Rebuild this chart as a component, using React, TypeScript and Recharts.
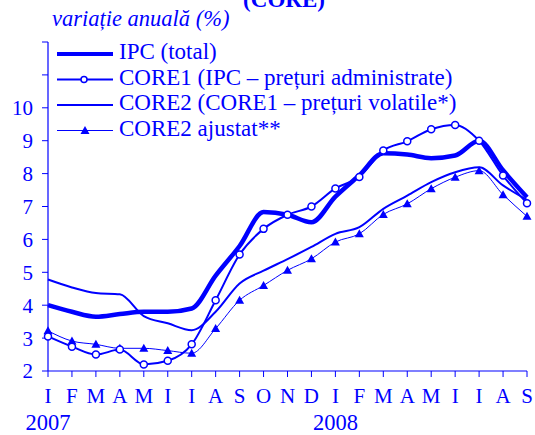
import React from 'react';
import { LineChart, Line, XAxis, YAxis, Legend } from 'recharts';

const BLUE = '#0000ff';
const FONT = 'Liberation Serif';

const months = ['I', 'F', 'M', 'A', 'M', 'I', 'I', 'A', 'S', 'O', 'N', 'D', 'I', 'F', 'M', 'A', 'M', 'I', 'I', 'A', 'S'];
const years = ['2007', '2007', '2007', '2007', '2007', '2007', '2007', '2007', '2007', '2007', '2007', '2007', '2008', '2008', '2008', '2008', '2008', '2008', '2008', '2008', '2008'];
const ipc = [4.0, 3.8, 3.65, 3.73, 3.8, 3.8, 3.9, 4.9, 5.8, 6.83, 6.75, 6.52, 7.3, 7.95, 8.62, 8.58, 8.47, 8.55, 9.0, 8.1, 7.28];
const core1 = [3.05, 2.74, 2.5, 2.65, 2.2, 2.31, 2.81, 4.15, 5.54, 6.32, 6.75, 7.0, 7.55, 7.9, 8.7, 8.98, 9.35, 9.48, 9.0, 7.94, 7.1];
const core2 = [4.78, 4.54, 4.37, 4.33, 3.67, 3.45, 3.24, 3.8, 4.66, 5.05, 5.4, 5.77, 6.17, 6.37, 6.93, 7.33, 7.74, 8.04, 8.19, 7.64, 7.2];
const core2adj = [3.22, 2.91, 2.81, 2.69, 2.69, 2.62, 2.54, 3.29, 4.15, 4.6, 5.06, 5.41, 5.92, 6.17, 6.76, 7.08, 7.54, 7.89, 8.09, 7.36, 6.7];
const yTicks = [2, 3, 4, 5, 6, 7, 8, 9, 10, 11, 12];
const legendLabels = [
  'IPC (total)',
  'CORE1 (IPC \u2013 pre\u021Buri administrate)',
  'CORE2 (CORE1 \u2013 pre\u021Buri volatile*)',
  'CORE2 ajustat**',
];
const title = '(CORE)';
const subtitle = 'varia\u021Bie anual\u0103 (%)';

const data = months.map((m, i) => ({
  key: `${years[i]}-${i}`,
  ipc: ipc[i],
  core1: core1[i],
  core2: core2[i],
  core2adj: core2adj[i],
}));

const txtStyle = { fontFamily: FONT };

const MonthTick = (props: any) => {
  const { x, y, index } = props;
  const i = typeof index === 'number' ? index : 0;
  const showYear = i === 0 || (i > 0 && years[i] !== years[i - 1]);
  return (
    <g>
      <text x={x} y={y + 24} textAnchor="middle" fill={BLUE} fontSize={21} style={txtStyle}>
        {months[i]}
      </text>
      {showYear && (
        <text x={x} y={y + 51} textAnchor="middle" fill={BLUE} fontSize={22.5} style={txtStyle}>
          {years[i]}
        </text>
      )}
    </g>
  );
};

const TriangleDot = (props: any) => {
  const { cx, cy, index } = props;
  if (cx == null || cy == null) return <g key={`t-${index}`} />;
  return (
    <polygon
      key={`t-${index}`}
      points={`${cx},${cy - 4.5} ${cx + 4.5},${cy + 3.5} ${cx - 4.5},${cy + 3.5}`}
      fill={BLUE}
    />
  );
};

const LegendContent = () => {
  const rows = [54, 79.5, 105, 130.5];
  return (
    <svg width={535} height={150} style={{ display: 'block' }}>
      {rows.map((ry, i) => (
        <g key={i}>
          <line
            x1={57}
            x2={113}
            y1={ry}
            y2={ry}
            stroke={BLUE}
            strokeWidth={i === 0 ? 4 : i === 3 ? 1 : 2}
          />
          {i === 1 && <circle cx={84} cy={ry} r={3} fill="#fff" stroke={BLUE} strokeWidth={1.5} />}
          {i === 3 && (
            <polygon points={`85,${ry - 4.5} 89.5,${ry + 3.5} 80.5,${ry + 3.5}`} fill={BLUE} />
          )}
          <text x={119} y={ry + 5} fill={BLUE} fontSize={23} style={txtStyle}>
            {legendLabels[i]}
          </text>
        </g>
      ))}
    </svg>
  );
};

export default function App() {
  return (
    <div style={{ position: 'absolute', left: 0, top: 0, width: 535, height: 435, background: '#fff', fontFamily: FONT }}>
      <LineChart width={535} height={435} data={data} margin={{ top: 42, right: 8, bottom: 0, left: 0 }} style={{ fontFamily: FONT }}>
        <XAxis
          dataKey="key"
          interval={0}
          height={64}
          tick={<MonthTick />}
          tickSize={6}
          tickLine={{ stroke: BLUE }}
          axisLine={{ stroke: BLUE, strokeWidth: 1.2 }}
          padding={{ left: 0, right: 0 }}
        />
        <YAxis
          domain={[2, 12]}
          ticks={yTicks}
          interval={0}
          width={48}
          tickSize={6}
          tickMargin={9}
          tickFormatter={(v: number) => (v <= 10 ? String(v) : '')}
          tick={{ fill: BLUE, fontSize: 21, style: txtStyle }}
          tickLine={{ stroke: BLUE }}
          axisLine={{ stroke: BLUE, strokeWidth: 1.2 }}
        />
        <Legend
          layout="vertical"
          align="center"
          verticalAlign="middle"
          content={<LegendContent />}
          wrapperStyle={{ position: 'absolute', left: 0, top: 0, width: 535, height: 150, pointerEvents: 'none' }}
        />
        <Line
          type="monotone"
          dataKey="core2adj"
          stroke={BLUE}
          strokeWidth={1}
          dot={<TriangleDot />}
          isAnimationActive={false}
        />
        <Line
          type="monotone"
          dataKey="core2"
          stroke={BLUE}
          strokeWidth={2}
          dot={false}
          isAnimationActive={false}
        />
        <Line
          type="monotone"
          dataKey="ipc"
          stroke={BLUE}
          strokeWidth={4.5}
          dot={false}
          isAnimationActive={false}
        />
        <Line
          type="monotone"
          dataKey="core1"
          stroke={BLUE}
          strokeWidth={2}
          dot={{ r: 3.5, fill: '#fff', stroke: BLUE, strokeWidth: 1.5 }}
          isAnimationActive={false}
        />
      </LineChart>
      <svg
        width={535}
        height={40}
        style={{ position: 'absolute', left: 0, top: 0, pointerEvents: 'none' }}
      >
        <text x={284} y={7} textAnchor="middle" fill={BLUE} fontSize={23} fontWeight="bold" style={txtStyle}>
          {title}
        </text>
        <text x={52} y={26} fill={BLUE} fontSize={22.5} fontStyle="italic" style={txtStyle}>
          {subtitle}
        </text>
      </svg>
    </div>
  );
}
